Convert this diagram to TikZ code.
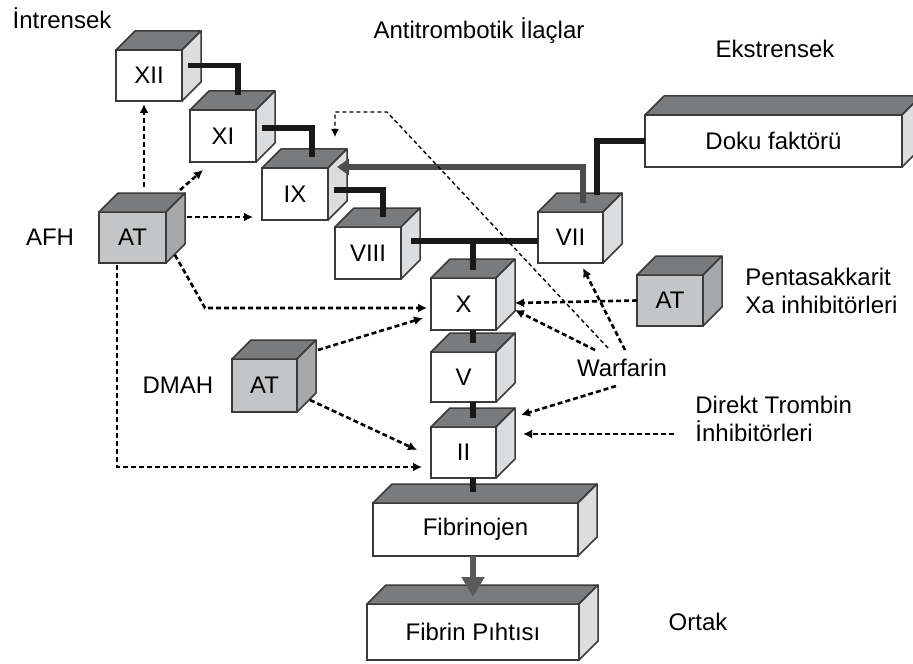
\documentclass[tikz,border=0pt]{standalone}
\usepackage{fontspec}
\setmainfont{Liberation Sans}
\usetikzlibrary{
    arrows.meta,
    calc
}
\definecolor{topgray}{HTML}{7A7B7D}
\definecolor{factorside}{HTML}{DCDDDF}
\definecolor{drugfront}{HTML}{C4C5C7}
\definecolor{drugside}{HTML}{A7A8AA}
\definecolor{edgegray}{HTML}{3A3A3A}
\tikzset {
    box/.style = {draw = edgegray, line width = 0.75pt, inner sep = 0pt, outer sep = 0pt, font = \fontsize{12}{14}\selectfont},
    factor front/.style = {box, fill = white},
    factor side/.style = {draw = edgegray, line width = 0.75pt, fill = factorside, line join = round},
    drug front/.style = {box, fill = drugfront},
    drug side/.style = {draw = edgegray, line width = 0.75pt, fill = drugside, line join = round},
    cube top/.style = {draw = edgegray, line width = 0.75pt, fill = topgray, line join = round},
    %
    label text/.style = {inner sep = 0pt, font = \fontsize{12}{14}\selectfont},
    link/.style = {line width = 2.6pt, black!90},
    inhibit/.style = {line width = 1.3pt, dash pattern = on 2.5pt off 1.5pt, -{Latex[length = 4.5pt, width = 4.5pt]}},
    inhibit thin/.style = {line width = 0.7pt, dash pattern = on 2pt off 1.5pt, -{Latex[length = 4pt, width = 4pt]}},
    feed/.style = {line width = 2.6pt, black!70, -{Triangle[length = 6pt, width = 8pt]}},
    conversion/.style = {line width = 3pt, black!65, -{Triangle[length = 10pt, width = 11pt]}}
}
% front face as node, top and side faces drawn from its corners
\newcommand{\cubebox}[7][factor]{%
    \node[#1 front, minimum width = #5*0.5pt, minimum height = #6*0.5pt] (#2) at (#3, #4) {#7};
    \draw[cube top] (#2.north west) -- ++(19, -19) -- ++(#5, 0) -- (#2.north east) -- cycle;
    \draw[#1 side] (#2.north east) -- ++(19, -19) -- ++(0, #6) -- (#2.south east) -- cycle;
}

\begin{document}
\begin{tikzpicture}[x = 0.5pt, y = -0.5pt]
    \useasboundingbox (0, 0) rectangle (913, 663);
    % factors
    \cubebox{XII}{149}{75.5}{66}{51}{XII}
    \cubebox{XI}{223}{136}{66}{52}{XI}
    \cubebox{IX}{295}{194}{66}{52}{IX}
    \cubebox{VIII}{368}{253}{66}{52}{VIII}
    \cubebox{VII}{570.5}{237.5}{65}{51}{VII}
    \cubebox{X}{463.5}{304}{65}{52}{X}
    \cubebox{V}{463.5}{377}{65}{50}{V}
    \cubebox{II}{463.5}{452.5}{65}{51}{II}
    \cubebox{Doku}{773.5}{141}{257}{52}{Doku faktörü}
    \cubebox{Fibrinojen}{475.5}{529.5}{205}{53}{Fibrinojen}
    \cubebox{Fibrin}{473}{632}{212}{56}{Fibrin Pıhtısı}
    % antithrombin
    \cubebox[drug]{atafh}{132.5}{237.5}{67}{51}{AT}
    \cubebox[drug]{atdmah}{264.5}{385.5}{65}{53}{AT}
    \cubebox[drug]{atpenta}{670}{300.5}{66}{51}{AT}
    % labels
    \node[label text] (intr) at (62, 18) {İntrensek};
    \node[label text] (title) at (479, 31) {Antitrombotik İlaçlar};
    \node[label text] (ekst) at (775, 49) {Ekstrensek};
    \node[label text] (afh) at (50, 237) {AFH};
    \node[label text] (dmah) at (178, 385) {DMAH};
    \node[label text] (warf) at (622, 368) {Warfarin};
    \node[label text, anchor = west, align = left] (penta) at (745, 291) {Pentasakkarit\\Xa inhibitörleri};
    \node[label text, anchor = west, align = left] (dti) at (695, 419) {Direkt Trombin\\İnhibitörleri};
    \node[label text] (ortak) at (698, 622) {Ortak};
    % cascade
    \draw[link] ([shift = {(6, -10)}]XII.east) -| ([shift = {(15, -15)}]XI.north);
    \draw[link] ([shift = {(6, -8)}]XI.east) -| ([shift = {(17, -11)}]IX.north);
    \draw[link] ([shift = {(6, -4)}]IX.east) -| ([shift = {(15, -10)}]VIII.north);
    \coordinate (xjoin) at ([shift = {(9.5, -37)}]X.north);
    \draw[link] ([shift = {(10, -12)}]VIII.east) -- (xjoin) -- (xjoin -| VII.west);
    \draw[link] (xjoin) -- ([shift = {(9.5, -8)}]X.north);
    \draw[link] ([shift = {(9.5, 0)}]X.south) -- ([shift = {(9.5, -9)}]V.north);
    \draw[link] ([shift = {(9.5, 0)}]V.south) -- ([shift = {(9.5, -9)}]II.north);
    \draw[link] ([shift = {(9.5, 0)}]II.south) -- ([shift = {(-2.5, -11)}]Fibrinojen.north);
    \draw[conversion] ([shift = {(-2.5, 0)}]Fibrinojen.south) -- ([shift = {(0, -7)}]Fibrin.north);
    \draw[link] (Doku.west) -| ([shift = {(26.5, -17)}]VII.north);
    \draw[feed] ([shift = {(12.5, -9)}]VII.north) |- ([shift = {(9, -27)}]IX.east);
    % drugs
    \draw[inhibit] ([shift = {(11.5, -25)}]atafh.north) -- ([shift = {(-5, 3)}]XII.south);
    \draw[inhibit] ([shift = {(14, -22)}]atafh.north east) -- ([shift = {(-20, 8)}]XI.south);
    \draw[inhibit] ([shift = {(21, -20.5)}]atafh.east) -- ([shift = {(-9, -3)}]IX.south west);
    \draw[inhibit] ([shift = {(9, -8)}]atafh.south east) -- ++(30, 53) -- ([shift = {(-4, 4)}]X.west);
    \draw[inhibit] ([shift = {(-15.5, 2)}]atafh.south) |- ([shift = {(-9, 14.5)}]II.west);
    \draw[inhibit] ([shift = {(21, -35.5)}]atdmah.east) -- ([shift = {(-8, 14)}]X.west);
    \draw[inhibit] ([shift = {(13, 14.5)}]atdmah.east) -- ([shift = {(-14, -2.5)}]II.west);
    \draw[inhibit] (atpenta.west) -- ([shift = {(19, -1)}]X.east);
    \draw[inhibit] ([shift = {(-27, -18)}]warf.center) -- ([shift = {(19, 6)}]X.east);
    \draw[inhibit] ([shift = {(3, -18)}]warf.center) -- ([shift = {(12.5, 5)}]VII.south);
    \draw[inhibit] ([shift = {(-6, 18)}]warf.center) -- ([shift = {(25, -12)}]II.north east);
    \draw[inhibit thin] ([shift = {(-14, -20)}]warf.center) -- ++(-221, -236) -| ([shift = {(40, -31)}]IX.north);
    \draw[inhibit] ([shift = {(-21, 15)}]dti.west) -- ([shift = {(27, -18.5)}]II.east);
\end{tikzpicture}
\end{document}
